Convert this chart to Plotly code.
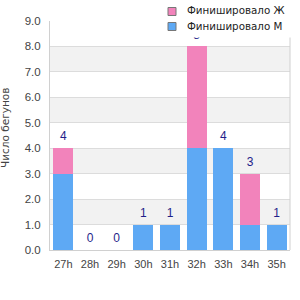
import plotly.graph_objects as go

categories = ["27h", "28h", "29h", "30h", "31h", "32h", "33h", "34h", "35h"]
male = [3, 0, 0, 1, 1, 4, 4, 1, 1]
female = [1, 0, 0, 0, 0, 4, 0, 2, 0]
totals = [m + f for m, f in zip(male, female)]
name_f = "Финишировало Ж"
name_m = "Финишировало М"
y_title = "Число бегунов"

BLUE = "#5ea9f4"
PINK = "#f283bb"

# plot area in pixels
L, R, T, B = 50, 290, 21, 250
def px(x):
    return (x - L) / (R - L)
def py(y):
    return (B - y) / (B - T)

fig = go.Figure()
fig.add_bar(x=categories, y=male, name=name_m, marker=dict(color=BLUE, line=dict(width=0)),
            showlegend=False)
fig.add_bar(x=categories, y=female, name=name_f, marker=dict(color=PINK, line=dict(width=0)),
            showlegend=False)
fig.add_scatter(x=categories, y=totals, mode="markers+text", text=[str(t) for t in totals],
                textposition="top center",
                marker=dict(size=6, color="rgba(0,0,0,0)"),
                textfont=dict(color="#1f1f8a", size=12, family="Liberation Sans"),
                showlegend=False, cliponaxis=False, hoverinfo="skip")

shapes = []
for i in range(1, 9, 2):
    shapes.append(dict(type="rect", xref="paper", yref="y", x0=0, x1=1, y0=i, y1=i + 1,
                       fillcolor="#f2f2f2", line=dict(width=0), layer="below"))
shapes.append(dict(type="line", xref="paper", yref="paper", x0=1, x1=1, y0=0, y1=1,
                   line=dict(color="#d0d0d0", width=1), layer="above"))
# legend background
shapes.append(dict(type="rect", xref="paper", yref="paper", x0=px(157), x1=px(293),
                   y0=py(37.5), y1=py(-2), fillcolor="white", line=dict(width=0), layer="above"))
# legend swatches
for (y0, y1, col) in [(7.5, 15.5, PINK), (22.5, 30.5, BLUE)]:
    shapes.append(dict(type="rect", xref="paper", yref="paper", x0=px(168), x1=px(176),
                       y0=py(y1), y1=py(y0), fillcolor=col,
                       line=dict(color="#777777", width=1), layer="above"))

annotations = [
    dict(text=name_f, xref="paper", yref="paper", x=px(185), y=py(10.5), xanchor="left",
         yanchor="middle", showarrow=False, font=dict(family="DejaVu Sans", size=10.3, color="#222")),
    dict(text=name_m, xref="paper", yref="paper", x=px(185), y=py(26), xanchor="left",
         yanchor="middle", showarrow=False, font=dict(family="DejaVu Sans", size=10.3, color="#222")),
    dict(text=y_title, xref="paper", yref="paper", x=px(5), y=py(128), xanchor="center",
         yanchor="middle", textangle=-90, showarrow=False,
         font=dict(family="DejaVu Sans", size=10.5, color="#444")),
]

fig.update_layout(
    width=300, height=300,
    margin=dict(l=L, r=300 - R, t=T, b=300 - B, autoexpand=False),
    barmode="stack", bargap=0.25,
    plot_bgcolor="white", paper_bgcolor="white",
    font=dict(family="Liberation Sans", size=11, color="#444"),
    shapes=shapes, annotations=annotations,
    showlegend=False,
    xaxis=dict(showline=True, linecolor="#d0d0d0", ticks="", tickfont=dict(size=11),
               range=[-0.5, 8.5], ticklabelstandoff=4),
    yaxis=dict(range=[0, 9], dtick=1, tickformat=".1f", showgrid=True, gridcolor="#dcdcdc",
               showline=True, linecolor="#d0d0d0", zeroline=False, ticks="",
               tickfont=dict(size=11.5), ticklabelstandoff=6),
)
fig.write_html("out.html")
